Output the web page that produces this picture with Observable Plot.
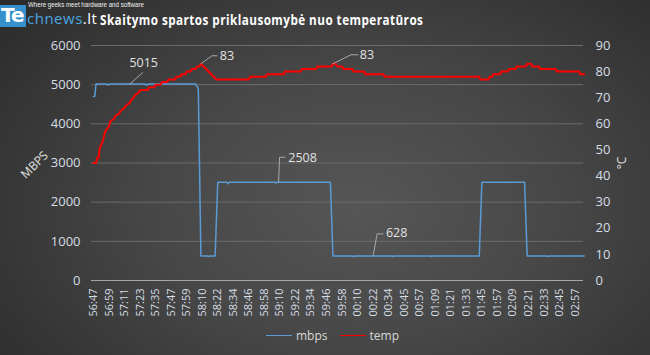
<!DOCTYPE html>
<html><head><meta charset="utf-8">
<script src="https://cdn.jsdelivr.net/npm/d3@7"></script>
<script src="https://cdn.jsdelivr.net/npm/@observablehq/plot@0.6"></script>
<style>
html,body{margin:0;padding:0;background:#333;}
#wrap{position:relative;width:650px;height:355px;overflow:hidden;
  background:radial-gradient(ellipse 70% 85% at 55% 58%, #565656 0%, #474747 45%, #2c2c2c 100%);
  font-family:"Open Sans",sans-serif;}
#chart{position:absolute;left:0;top:0;}
#logo{position:absolute;left:0;top:0;width:98px;height:30px;}
#logo .box{position:absolute;left:0;top:5px;width:26px;height:22px;background:#3590cc;}
#logo .te{position:absolute;left:1px;top:4px;font:bold 20px "DejaVu Sans",sans-serif;line-height:22px;color:#fff;letter-spacing:-1px;}
#logo .rest{position:absolute;left:27px;top:11px;font:15px "Open Sans",sans-serif;color:#4aa6e0;letter-spacing:0.5px;line-height:15px;}
#logo .rest b{color:#fff;font-weight:normal;}
#logo .tag{position:absolute;left:28px;top:1px;font:7.5px "Liberation Sans",sans-serif;line-height:8px;color:#f0f0f0;white-space:nowrap;transform:scaleX(0.82);transform-origin:left top;}
#title{position:absolute;left:100px;top:12px;font:bold 14px "Open Sans",sans-serif;line-height:16px;color:#fff;letter-spacing:0.55px;white-space:nowrap;transform:scaleX(0.835);transform-origin:left top;}
#legend{position:absolute;left:266px;top:326px;font:12px "Open Sans",sans-serif;color:#d8d8d8;white-space:nowrap;}
#legend span{display:inline-block;vertical-align:middle;}
#legend .sw{width:26px;height:0;border-top:1.5px solid;margin-right:4px;}
</style></head><body>
<div id="wrap">
  <div id="chart"></div>
  <div id="logo"><div class="box"></div><div class="te">Te</div><div class="rest">chnews<b>.lt</b></div><div class="tag">Where geeks meet hardware and software</div></div>
  <div id="title">Skaitymo spartos priklausomybė nuo temperatūros</div>
  <div id="legend"><span class="sw" style="border-color:#5b9bd5"></span><span style="margin-right:12px">mbps</span><span class="sw" style="border-color:#ff0000"></span><span>temp</span></div>
</div>
<script>
// category tick labels (every 12th sample)
const xLabels = ["56:47","56:59","57:11","57:23","57:35","57:47","57:59","58:10","58:22","58:34","58:46","58:58","59:10","59:22","59:34","59:46","59:58","00:10","00:22","00:34","00:45","00:57","01:09","01:21","01:33","01:45","01:57","02:09","02:21","02:33","02:45","02:57"];
const labelStep = 12;
const nSamples = 380;
// left axis (MBPS) and right axis (°C)
const mbpsTicks = [0,1000,2000,3000,4000,5000,6000];
const tempTicks = [0,10,20,30,40,50,60,70,80,90];
const mbpsMax = 6000, tempMax = 90;

// mbps series: sample index -> value (breakpoints of the recorded log)
const mbpsIdx = [0,1,2,10,11,12,40,41,42,79,81,83,88,89,90,94,96,103,104,105,140,141,142,183,185,200,201,202,230,231,232,260,261,262,298,300,333,335,350,351,352,379];
const mbpsVal = [4700,4700,5015,5015,4990,5015,5015,4985,5015,5015,4900,628,628,610,628,628,2508,2508,2470,2508,2508,2490,2508,2508,628,628,605,628,628,610,628,628,612,628,628,2508,2508,628,628,610,628,628];

// temp series: sample index -> °C
const tempIdx = [0,2,3,4,5,7,8,9,12,13,16,17,20,21,24,25,28,29,31,32,35,36,42,43,47,48,52,53,57,58,63,64,67,68,71,72,75,76,79,80,82,83,95,120,121,133,134,147,148,160,161,172,173,184,185,187,188,192,193,200,201,209,210,224,225,298,299,305,306,308,309,314,315,320,321,326,327,334,335,338,339,344,345,357,358,375,376,379];
const tempVal = [45,45,47,47,51,53,55,57,59,61,62,63,64,65,66,67,68,69,70,71,72,73,73,74,74,75,75,76,76,77,77,78,78,79,79,80,80,81,81,82,82,83,77,77,78,78,79,79,80,80,81,81,82,82,83,83,82,82,81,81,80,80,79,79,78,78,77,77,78,78,79,79,80,80,81,81,82,82,83,83,82,82,81,81,80,80,79,79];

// data labels
const annText   = ["5015","83","83","2508","628"];
const annSeries = ["mbps","temp","temp","mbps","mbps"];
const annIdx    = [28,83,185,143,216];
const annValue  = [5015,83,83,2508,628];

const mbps = mbpsIdx.map((i,k)=>({i, v: mbpsVal[k]}));
const temp = tempIdx.map((i,k)=>({i, v: tempVal[k]*mbpsMax/tempMax}));
const toY = (s,v) => s==="temp" ? v*mbpsMax/tempMax : v;
const anns = annText.map((t,k)=>({t, i: annIdx[k], y: toY(annSeries[k], annValue[k])}));

// leader line shapes and label offsets (pixels)
const leaderPts = [[[13,-11.5]],[[11,-8],[16,-8]],[[18,-9],[25,-9]],[[1,-25],[6.5,-25]],[[4,-22],[10,-22]]];
const textOff = [[14,-21],[26,-8],[34,-8.5],[24,-24.5],[23.5,-23]];

const tickColor = "#d6dee6";
const marks = [
  Plot.ruleY(mbpsTicks.filter(d=>d>0), {stroke:"#6b6b6b", strokeWidth:1}),
  Plot.ruleY([0], {stroke:"#a6a6a6", strokeWidth:1.2}),
  Plot.axisY({ticks: mbpsTicks, tickSize:0, tickPadding:11, fontSize:13, fill:tickColor, label:null, tickFormat: d=>String(d)}),
  Plot.axisY({anchor:"right", ticks: tempTicks.map(t=>t*mbpsMax/tempMax), tickSize:0, tickPadding:12, fontSize:13, fill:tickColor, label:null, tickFormat: d=>String(Math.round(d*tempMax/mbpsMax))}),
  Plot.axisX({ticks: xLabels.map((_,k)=>k*labelStep), tickFormat: d=>xLabels[Math.round(d/labelStep)], tickRotate:-90, tickSize:0, tickPadding:8, fontSize:11, fill:tickColor, label:null}),
  Plot.text(["MBPS"], {frameAnchor:"left", textAnchor:"middle", dx:-57, dy:2, rotate:-45, fontSize:12, fill:"#e0e0e0"}),
  Plot.text(["°C"], {frameAnchor:"right", textAnchor:"middle", dx:39, rotate:-90, fontSize:12, fill:"#e0e0e0"}),
  Plot.line(mbps, {x:"i", y:"v", stroke:"#5b9bd5", strokeWidth:1.5}),
  Plot.line(temp, {x:"i", y:"v", stroke:"#ff0000", strokeWidth:2}),
];
anns.forEach((a,k)=>{
  const pts = leaderPts[k];
  marks.push(Plot.vector([a], {x:"i", y:"y", anchor:"start", stroke:"#a8a8a8", strokeWidth:1,
    shape:{draw(ctx){ctx.moveTo(0,0); for(const [px,py] of pts) ctx.lineTo(px,py);}}}));
  marks.push(Plot.text([a], {x:"i", y:"y", text:"t", dx:textOff[k][0], dy:textOff[k][1], fontSize:12.5, fill:"#e2e2e2"}));
});

const chart = Plot.plot({
  width:650, height:355,
  marginLeft:91, marginRight:67, marginTop:45, marginBottom:75,
  style:{background:"transparent", fontFamily:"'Open Sans', sans-serif", overflow:"visible"},
  x:{domain:[-1.5, nSamples-1.5]},
  y:{domain:[0, mbpsMax]},
  marks
});
document.getElementById("chart").appendChild(chart);
</script>
</body></html>
